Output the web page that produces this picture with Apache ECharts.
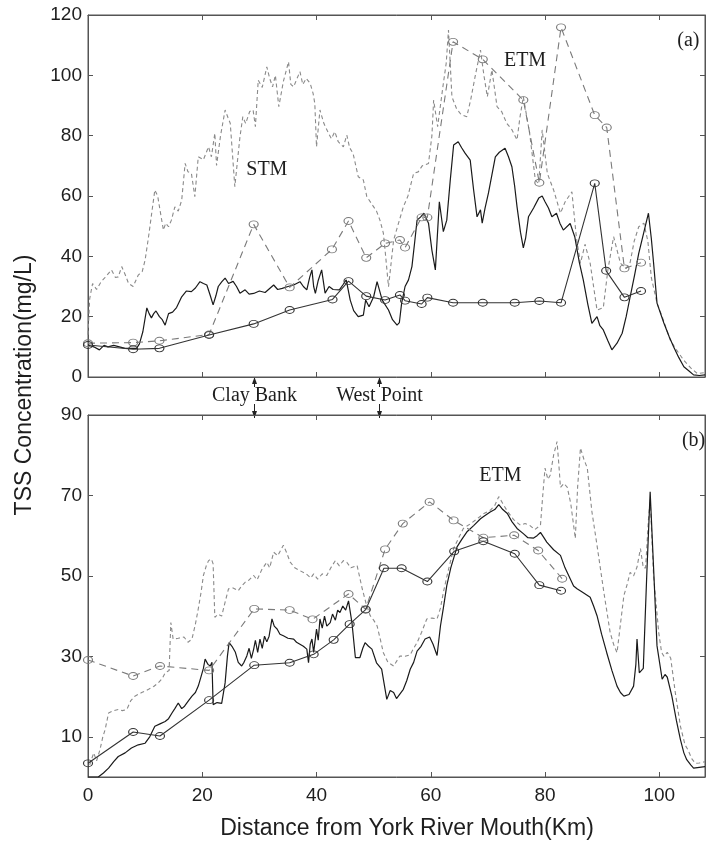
<!DOCTYPE html>
<html><head><meta charset="utf-8">
<script src="https://cdn.jsdelivr.net/npm/echarts@6/dist/echarts.min.js"></script>
<style>html,body{margin:0;padding:0;background:#fff}#c{width:706px;height:846px}</style>
</head><body><div id="c"></div>
<script>
// ---- tick labels ----
const xTicks = [0, 20, 40, 60, 80, 100];
const yTicksA = [0, 20, 40, 60, 80, 100, 120];
const yTicksB = [10, 30, 50, 70, 90];

// ---- panel (a) ----
const aDenseDashed = [[0,14],[0.3,26],[0.8,31],[1.5,29],[2.3,31.6],[3,33],[4.1,35.5],[4.8,33],[5.3,33.2],[5.9,36.6],[6.5,34],[7.1,31],[7.9,30],[8.8,33.8],[9.5,35],[10,38.8],[10.6,46.5],[11.2,55],[11.7,62],[12.2,60],[12.6,55.4],[13.2,48.7],[13.6,51],[14.1,49.8],[14.6,52],[15.2,56.4],[15.8,55],[16.4,58.6],[17,70.8],[17.5,68],[18.1,67.5],[18.7,59.8],[19.3,73],[20.2,72],[21.1,76.3],[21.6,73],[22.2,80.8],[22.5,70.1],[23.2,80],[24,88.5],[24.5,86],[24.9,84.1],[25.7,63.1],[26.6,79.6],[27.1,86.3],[27.6,84],[28.3,88],[28.9,88.5],[29.3,83],[29.8,98.4],[30.5,96],[31.3,102.8],[31.8,99],[32.3,96.2],[32.8,100],[33.4,89.6],[34.2,98],[35.1,104.5],[35.5,97],[36,96.2],[36.6,99],[37.1,101.2],[37.6,97],[38.2,99],[38.9,97.3],[39.4,94],[39.7,90.7],[40,76.3],[40.6,88.5],[41.3,84],[42.1,80.8],[42.6,79],[43.2,81.3],[43.8,78],[44.7,76.3],[45.3,80.2],[45.8,76],[46.4,74.1],[47.3,66.4],[48.2,65.3],[48.8,59.8],[50,56.4],[50.5,55],[51.1,52],[51.7,47.7],[52,42.1],[52.6,29.9],[53.5,45.4],[54.2,50],[55.2,56.4],[56,60],[57,67.5],[57.8,68],[58.5,70],[59.6,70.8],[60.2,80],[60.5,91.8],[61.2,83],[62.2,97.3],[62.7,104],[63.1,115],[63.7,92.9],[64.5,89],[65.3,87],[66.3,86.3],[67,92],[67.8,100],[68.7,108.4],[69.3,100],[69.9,92.9],[70.7,101.8],[71.6,89.6],[72.4,88],[73.3,84.1],[74.2,82],[75.1,78.6],[75.6,86],[76.2,92.9],[77.3,80.8],[78.3,65.3],[78.9,64],[79.5,81.9],[80.4,67.5],[81.5,62],[82.7,54.3],[83.5,58],[84.7,61.4],[85.5,46],[86.2,37.7],[87,44],[87.9,37.7],[89.1,22.2],[90.2,23],[91,35.5],[92,46.5],[93.2,37.7],[94.2,36],[94.9,38],[95.6,45],[96.4,49.8],[97.3,51],[98,45],[98.6,33],[99.6,24.5],[100.5,20],[101.9,12.3],[103,9],[104.3,5.5],[105.5,3],[106.7,1.1],[108,1.5]];
const aDenseSolid = [[0,10.6],[1,10],[2,9],[2.8,10.5],[3.5,10],[4.5,10.5],[5.5,10],[6.5,9.5],[7.5,9.5],[8.5,9.5],[9,11],[9.6,15],[10.3,22.9],[10.7,21],[11.1,19.6],[11.5,21],[11.9,21.9],[12.5,20],[13,19],[13.5,17.2],[14.1,21],[14.8,21.5],[15.5,23],[16.4,26.6],[17.2,28.5],[18.1,28.3],[18.8,29.5],[19.6,31.6],[20.2,31],[20.8,30.5],[21.4,27],[21.9,23.9],[22.4,27],[22.8,30],[23.4,31.5],[24,32.8],[24.6,31],[25.4,31.7],[26,30],[26.6,27.8],[27.5,28.9],[28.2,27.5],[29,27.7],[30,28.5],[31,28],[32.5,30.5],[33.2,29],[34,29.4],[35,30],[36,30.5],[37.1,31.6],[37.7,30],[38.3,28.9],[38.8,33],[39.2,35.5],[39.5,30],[39.8,27.7],[40.3,32],[40.9,35.5],[41.5,27.8],[42.2,30],[42.9,29],[44,28.9],[44.6,30.5],[45.2,32.2],[45.9,25.5],[46.5,22],[47.3,20],[48.2,20.5],[48.6,25.5],[49.2,23.3],[50,26.6],[50.6,31.6],[51.5,25.5],[52.6,22.2],[53.3,19],[54.1,17.2],[54.5,18],[54.9,24.5],[55.5,30],[56.1,32.2],[56.7,36.6],[57.2,45],[57.6,52],[58.2,53],[58.8,54.3],[59.6,51],[60.2,42],[60.8,35.5],[61.5,58.1],[62.2,48.2],[62.8,52],[63.4,65],[64,76.9],[64.8,78],[65.4,76],[66,74.2],[66.9,71.9],[67.5,62],[68.1,53.1],[68.7,55.4],[69,51],[69.5,56],[70.1,61],[70.7,67],[71.3,73],[72,74.5],[73,75.8],[73.6,73],[74.2,69.7],[74.7,63],[75.1,56.4],[75.7,48],[76.2,42.8],[76.6,46],[77.1,53.1],[78,56],[78.9,59.3],[79.5,60],[80,58.1],[80.6,56],[81.2,53.1],[82,54.3],[82.6,51],[83.2,48.7],[84.4,50.9],[85.2,46.5],[86,38],[86.7,32.1],[87.5,24],[88.2,17.8],[89.1,20],[89.6,17],[90.2,15.6],[91,12],[91.7,9],[92.6,11.2],[93.5,14.5],[94.2,20],[94.9,26.6],[95.7,34],[96.4,41],[97.3,48],[98.1,54.3],[98.6,46],[99,37.8],[99.6,24.5],[100.8,17.9],[101.7,13.5],[102.5,10],[103.4,6.5],[104.3,3.4],[105.2,2],[106,0.7],[107,0.5],[108,0.7]];
const aObsDashed = [[0,11.2],[7.9,11.4],[12.5,12],[21.2,14.1],[29,50.6],[35.3,29.7],[42.7,42.3],[45.6,51.7],[48.7,39.5],[52,44.3],[54.6,45.4],[55.5,42.9],[58.4,52.9],[59.4,52.9],[63.9,111.1],[69.1,105.3],[76.2,91.8],[79,64.4],[82.8,115.9],[88.7,86.8],[90.8,82.7],[93.9,36],[96.8,37.9]];
const aObsSolid = [[0,10.6],[7.9,9.2],[12.5,9.5],[21.2,13.9],[29,17.6],[35.3,22.2],[42.8,25.7],[45.6,31.8],[48.7,26.8],[52,25.5],[54.6,27.2],[55.5,25.3],[58.4,24.2],[59.4,26.3],[63.9,24.6],[69.1,24.6],[74.7,24.6],[79,25.2],[82.8,24.6],[88.7,64.2],[90.7,35.2],[93.9,26.4],[96.8,28.5]];

// ---- panel (b) ----
const bDenseDashed = [[0.3,3],[1,6],[1.5,4],[2.1,6.8],[2.6,10],[3,11.8],[3.6,15.9],[4.5,16.5],[5.3,16.8],[6,16.5],[6.8,16.8],[7.5,19],[8.2,20.1],[9.4,21],[10.6,21.8],[11.5,22.5],[12.3,23.4],[13,24.5],[13.5,25.9],[14.2,26.5],[14.5,38.4],[14.9,34.3],[15.8,34.5],[16.8,34.8],[17.5,33.5],[18.2,34.3],[18.8,38],[19.3,41.8],[19.8,46],[20.2,50.1],[20.7,52.5],[21.1,53.8],[21.6,54.2],[21.9,53],[22.2,39.7],[22.8,40.5],[23.4,40],[24,43.5],[24.6,46.8],[25.4,47],[26.3,46.3],[26.9,47.5],[27.5,48.4],[28.2,49],[29,50.1],[29.6,49],[30.4,51.5],[31.3,53.4],[31.8,52],[32.5,55.9],[33.2,55],[34.2,57.6],[34.7,56],[35.4,53.4],[36.2,52],[37.1,51.3],[38.2,50.5],[39,49.5],[39.5,50.5],[40.2,49.2],[41,50.5],[41.8,50.1],[42.5,52],[43.3,53.8],[44,52.5],[44.7,53.8],[45.3,53.4],[46,52],[47.1,52.6],[48,46.8],[48.7,43],[49.4,40.1],[50,39],[50.6,37.6],[51.2,34],[51.7,30.9],[52.5,28.5],[53.5,27.6],[54.6,30.1],[55.5,30],[56.4,30.4],[57,32],[57.6,33.4],[58.4,36],[59.3,39.3],[60.2,39.5],[61.1,39.3],[61.7,42],[62.2,45.9],[63,51],[64,56.8],[64.9,59.5],[65.7,61.8],[67,63],[68.2,64.3],[69.3,65.5],[70.4,66.3],[71.2,67.5],[71.9,69.7],[72.6,68],[73.4,66.1],[74.5,64],[75.7,62.6],[76.5,63],[77.3,62.6],[78.2,61.5],[79.2,62.6],[79.6,70],[80,76.8],[80.5,74],[80.9,75],[81.5,80],[82.1,83.4],[82.4,78],[82.7,72],[83.3,73],[83.9,72],[84.5,68],[85.3,59.3],[85.7,72],[86.2,81.8],[86.8,79],[87.4,76.8],[88.2,66],[89.1,57.6],[90.3,45.9],[91.4,35.9],[92,33],[92.6,30.9],[93.2,38],[93.8,45.1],[94.4,48],[94.9,50.9],[95.5,50],[96.1,52.2],[96.7,56.8],[97.2,52],[97.6,52],[98.1,64],[98.4,69],[99,50],[99.9,35.9],[100.4,31],[100.8,30],[101.4,31],[102,29.5],[102.8,21],[103.7,12.6],[104.5,8],[105,6.8],[105.7,4.5],[106.3,3.4],[107,3.5],[108,3.8]];
const bDenseSolid = [[0,0],[1.8,0],[2.7,1],[3.6,2.2],[4.5,3.8],[5.3,5.1],[6.5,6],[7.6,7.2],[8.8,8],[10,8.4],[10.8,10],[11.7,12.6],[12.6,13.2],[13.5,13.8],[14.1,14.5],[14.7,15.9],[15.2,17],[15.8,18.4],[16.4,17],[16.9,17.6],[17.6,19],[18.2,20.1],[18.8,21],[19.3,22.6],[19.8,25],[20.2,27],[20.5,29.3],[21,28],[21.4,27.6],[21.7,28.5],[21.9,18],[22.6,18.5],[23.4,18.3],[24,23.4],[24.4,30],[24.7,33.4],[25.2,32.5],[25.8,31],[26.3,28.5],[26.9,27.6],[27.3,28.5],[27.8,30.1],[28.2,32],[28.6,29.5],[29,31.8],[29.3,34],[29.7,31],[30.1,34.3],[30.5,32],[30.9,35],[31.3,33.6],[31.7,35],[32.2,39.3],[32.6,37.5],[33.1,36.8],[33.6,35.5],[34.2,35.1],[35,34.5],[36,34.3],[36.5,33.5],[37.1,33],[37.7,32.5],[38.3,31.8],[38.6,28.4],[38.9,33],[39.2,34.3],[39.5,31],[40,36.8],[40.3,34],[40.6,39.3],[41,37],[41.4,40],[41.8,37.5],[42.4,38.4],[42.8,40.5],[43.3,39],[43.7,41.5],[44.1,40.9],[44.6,42.5],[45.1,41.5],[45.6,43.8],[46.2,38.4],[46.8,29.7],[47.6,29.7],[48.1,32],[48.5,33.4],[49.1,32.5],[49.7,31.8],[50.5,28.4],[51.4,26.8],[52.3,19.3],[52.9,21.5],[53.5,21],[54,19.5],[54.3,19.3],[55.2,21.8],[55.8,24],[56.4,26.8],[57,28.5],[57.6,31.3],[58.3,32.5],[59,34.3],[59.8,34.8],[60.4,33],[61.1,30.2],[61.7,37.6],[62.2,42],[62.8,47.6],[63.5,52],[64.6,57.2],[65.4,59],[66.3,60.9],[67.5,62.5],[68.7,64.2],[69.5,65],[70.4,65.9],[71.2,66.5],[71.9,67.7],[72.6,66.5],[73.4,65.5],[74.2,63.5],[75.1,61.8],[76.2,60.5],[77,59.5],[78,59.4],[78.6,60],[79.2,60.8],[79.8,59.5],[80.3,58.4],[81.5,56.5],[82.7,55.1],[83.5,52],[84.4,49.3],[85,47.5],[85.6,46.8],[86.5,46],[87.9,44.7],[88.5,42.5],[89.1,40.1],[89.9,35.5],[90.8,30.9],[91.7,26.5],[92.6,22.6],[93.2,21],[93.8,20.1],[94.7,20.5],[95.5,22.6],[95.9,28],[96.1,34.3],[96.5,25.9],[97.2,27],[97.8,50],[98.4,70.9],[99,52],[99.6,32.6],[100.5,24.3],[101,25.5],[101.4,24.8],[102.2,20.1],[103,14],[103.7,9.3],[104.3,6],[104.8,4.3],[105.5,3],[106,2.2],[107,2.4],[108,2.6]];
const bObsDashed = [[0,29.1],[7.9,25.1],[12.6,27.6],[21.2,26.5],[29.1,41.8],[35.3,41.5],[39.3,39.2],[45.6,45.5],[48.6,41.7],[52,56.6],[55.1,63],[59.8,68.4],[64,63.8],[69.2,59.5],[74.6,60.1],[78.8,56.3],[83,49.3]];
const bObsSolid = [[0,3.4],[7.9,11.2],[12.6,10.2],[21.2,19.1],[29.1,27.8],[35.3,28.4],[39.5,30.5],[43,34.1],[45.8,38],[48.6,41.6],[51.8,51.9],[54.9,51.9],[59.4,48.6],[64.1,56.1],[69.2,58.6],[74.7,55.5],[79,47.7],[82.8,46.3]];

// ---- annotations ----
const landmarks = [{name: 'Clay Bank', km: 29}, {name: 'West Point', km: 51}];
const panelNotes = [
  {text: 'STM', panel: 0, x: 31.3, y: 68.6},
  {text: 'ETM', panel: 0, x: 76.5, y: 105},
  {text: '(a)', panel: 0, x: 105.1, y: 111.4},
  {text: 'ETM', panel: 1, x: 72.2, y: 75},
  {text: '(b)', panel: 1, x: 106, y: 83.5}
];
const yTitle = 'TSS Concentration(mg/L)';
const xTitle = 'Distance from York River Mouth(Km)';

const AX = '#555', TXT = '#1e1e1e', DASH = '#8a8a8a', SOLID = '#1a1a1a';
const labelFont = {color: TXT, fontSize: 19, fontFamily: 'Liberation Sans'};

function xAx(grid, pos, labels) {
  return {type: 'value', gridIndex: grid, position: pos, min: 0, max: 108,
    axisLine: {show: true, onZero: false, lineStyle: {color: AX, width: 1}},
    axisTick: {show: true, inside: true, length: 5, customValues: xTicks, lineStyle: {color: AX}},
    axisLabel: Object.assign({show: labels, customValues: xTicks, margin: 9}, labelFont),
    splitLine: {show: false}};
}
function yAx(grid, pos, max, ticks, labels) {
  return {type: 'value', gridIndex: grid, position: pos, min: 0, max: max,
    axisLine: {show: true, onZero: false, lineStyle: {color: AX, width: 1}},
    axisTick: {show: true, inside: true, length: 5, customValues: ticks, lineStyle: {color: AX}},
    axisLabel: Object.assign({show: labels, customValues: ticks, margin: 6}, labelFont),
    splitLine: {show: false}};
}
function dense(data, xi, yi, dashed) {
  return {type: 'line', xAxisIndex: xi, yAxisIndex: yi, data: data, showSymbol: false, symbol: 'none',
    silent: true, z: dashed ? 2 : 3,
    lineStyle: {color: dashed ? DASH : SOLID, width: dashed ? 1.1 : 1.2, type: dashed ? [4, 3] : 'solid'}};
}
function obs(data, xi, yi, dashed) {
  const c = dashed ? '#7a7a7a' : '#333';
  return {type: 'line', xAxisIndex: xi, yAxisIndex: yi, data: data, symbol: 'circle', symbolSize: [9, 7],
    showSymbol: true, silent: true, z: 4,
    itemStyle: {color: 'rgba(255,255,255,0)', borderColor: c, borderWidth: 1},
    lineStyle: {color: c, width: 1.1, type: dashed ? [7, 5] : 'solid'}};
}

const chart = echarts.init(document.getElementById('c'), null, {renderer: 'canvas'});
chart.setOption({
  animation: false,
  backgroundColor: '#fff',
  grid: [
    {left: 88, right: 1, top: 15, height: 362, show: true, borderColor: AX, borderWidth: 1, backgroundColor: 'transparent'},
    {left: 88, right: 1, top: 415, height: 362, show: true, borderColor: AX, borderWidth: 1, backgroundColor: 'transparent'}
  ],
  xAxis: [xAx(0, 'bottom', false), xAx(0, 'top', false), xAx(1, 'bottom', true), xAx(1, 'top', false)],
  yAxis: [yAx(0, 'left', 120, yTicksA, true), yAx(0, 'right', 120, yTicksA, false),
          yAx(1, 'left', 90, yTicksB, true), yAx(1, 'right', 90, yTicksB, false)],
  series: [
    dense(aDenseDashed, 0, 0, true), dense(aDenseSolid, 0, 0, false),
    obs(aObsDashed, 0, 0, true), obs(aObsSolid, 0, 0, false),
    dense(bDenseDashed, 2, 2, true), dense(bDenseSolid, 2, 2, false),
    obs(bObsDashed, 2, 2, true), obs(bObsSolid, 2, 2, false)
  ]
});

// annotations placed through the axes' own scales
const g = [];
const yA0 = chart.convertToPixel({yAxisIndex: 0}, 0);
const yBtop = chart.convertToPixel({yAxisIndex: 2}, 90);
const midY = (yA0 + yBtop) / 2;
const serif = '20px "Liberation Serif"';
landmarks.forEach(function (l) {
  const px = Math.round(chart.convertToPixel({xAxisIndex: 0}, l.km)) + 0.5;
  g.push({type: 'line', silent: true, shape: {x1: px, y1: yA0, x2: px, y2: yA0 + 10}, style: {stroke: '#222', lineWidth: 1}});
  g.push({type: 'polygon', silent: true, shape: {points: [[px, yA0], [px - 2.5, yA0 + 7], [px + 2.5, yA0 + 7]]}, style: {fill: '#222'}});
  g.push({type: 'text', silent: true, x: px, y: midY, style: {text: l.name, font: serif, fill: TXT, align: 'center', verticalAlign: 'middle'}});
  g.push({type: 'line', silent: true, shape: {x1: px, y1: yBtop - 11, x2: px, y2: yBtop + 3}, style: {stroke: '#222', lineWidth: 1}});
  g.push({type: 'polygon', silent: true, shape: {points: [[px, yBtop + 3], [px - 2.5, yBtop - 4], [px + 2.5, yBtop - 4]]}, style: {fill: '#222'}});
});
panelNotes.forEach(function (n) {
  const p = chart.convertToPixel({xAxisIndex: n.panel * 2, yAxisIndex: n.panel * 2}, [n.x, n.y]);
  g.push({type: 'text', silent: true, x: p[0], y: p[1], style: {text: n.text, font: serif, fill: TXT, align: 'center', verticalAlign: 'middle'}});
});
g.push({type: 'text', silent: true, x: 25, y: 385, rotation: Math.PI / 2,
  style: {text: yTitle, font: '23px "Liberation Sans"', fill: TXT, align: 'center', verticalAlign: 'middle'}});
g.push({type: 'text', silent: true, x: 407, y: 829,
  style: {text: xTitle, font: '23px "Liberation Sans"', fill: TXT, align: 'center', verticalAlign: 'middle'}});
chart.setOption({graphic: g});
</script>
</body></html>
